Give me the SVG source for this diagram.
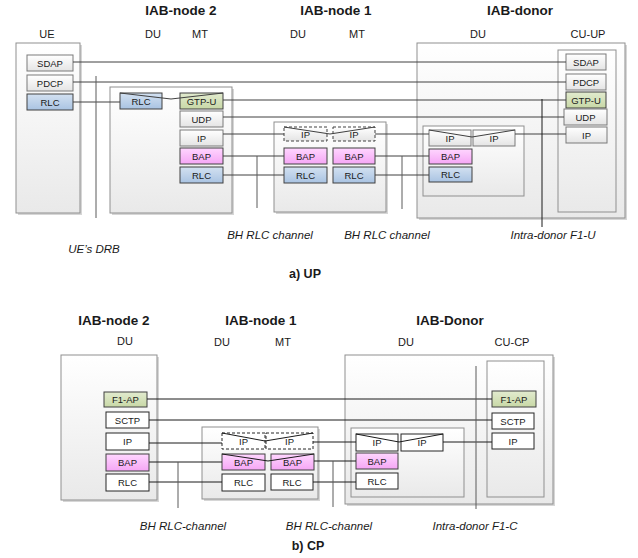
<svg xmlns="http://www.w3.org/2000/svg" width="638" height="558" viewBox="0 0 638 558">
<defs>
<linearGradient id="gOuter" x1="0" y1="0" x2="0" y2="1"><stop offset="0" stop-color="#ffffff"/><stop offset="1" stop-color="#e9e9e9"/></linearGradient>
<linearGradient id="gWhite" x1="0" y1="0" x2="0" y2="1"><stop offset="0" stop-color="#ffffff"/><stop offset="1" stop-color="#e4e4e4"/></linearGradient>
<linearGradient id="gBlue" x1="0" y1="0" x2="0" y2="1"><stop offset="0" stop-color="#d3e1f1"/><stop offset="1" stop-color="#a9c3e2"/></linearGradient>
<linearGradient id="gPink" x1="0" y1="0" x2="0" y2="1"><stop offset="0" stop-color="#ffd6ff"/><stop offset="1" stop-color="#f5a6f5"/></linearGradient>
<linearGradient id="gGreen" x1="0" y1="0" x2="0" y2="1"><stop offset="0" stop-color="#e2ebcf"/><stop offset="1" stop-color="#c8d8a6"/></linearGradient>
</defs>
<style>
.outer{fill:url(#gOuter);stroke:#8f8f8f;stroke-width:1}
.sh{fill:#d6d6d6;stroke:none}
.lay{fill:url(#gWhite);stroke:#7a7a7a;stroke-width:1}
.blue{fill:url(#gBlue);stroke:#404040;stroke-width:1}
.pink{fill:url(#gPink);stroke:#404040;stroke-width:1}
.green{fill:url(#gGreen);stroke:#404040;stroke-width:1}
.wcp{fill:#ffffff;stroke:#262626;stroke-width:1}
.dash{fill:#ffffff;stroke:#262626;stroke-width:1;stroke-dasharray:3 2}
.dashg{fill:url(#gWhite);stroke:#404040;stroke-width:1;stroke-dasharray:3 2}
text{font-family:"Liberation Sans",Arial,sans-serif;fill:#1a1a1a;text-anchor:middle}
.t{font-size:9.5px}
.h{font-size:13.5px;font-weight:bold}
.s{font-size:11px}
.i{font-size:11.5px;font-style:italic}
.cap{font-size:12.5px;font-weight:bold}
.ln{stroke:#404040;fill:none;stroke-width:1}
.lk{stroke:#1a1a1a;fill:none;stroke-width:1}
.vg{stroke:#5a5a5a;fill:none;stroke-width:1}
</style>

<!-- ============ a) UP ============ -->
<g id="up-labels">
<text class="h" x="181" y="15">IAB-node 2</text>
<text class="h" x="336" y="15">IAB-node 1</text>
<text class="h" x="520" y="15">IAB-donor</text>
<text class="s" x="47" y="38">UE</text>
<text class="s" x="153" y="38">DU</text>
<text class="s" x="200" y="38">MT</text>
<text class="s" x="298" y="38">DU</text>
<text class="s" x="357" y="38">MT</text>
<text class="s" x="478" y="38">DU</text>
<text class="s" x="588" y="38">CU-UP</text>
</g>

<g id="up-ue">
<rect class="sh" x="18" y="45" width="64" height="170"/>
<rect class="outer" x="16" y="43" width="64" height="170"/>
<rect class="lay" x="27" y="55" width="46" height="16"/><text class="t" x="50" y="66.5">SDAP</text>
<rect class="lay" x="27" y="75" width="46" height="16"/><text class="t" x="50" y="86.5">PDCP</text>
<rect class="blue" x="27" y="94" width="46" height="16"/><text class="t" x="50" y="105.5">RLC</text>
</g>

<g id="up-iab-node2">
<rect class="sh" x="112" y="89" width="122" height="126"/>
<rect class="outer" x="110" y="87" width="122" height="126"/>
<rect class="blue" x="120" y="93" width="42" height="16"/><text class="t" x="141" y="104.5">RLC</text>
<rect class="green" x="180" y="93" width="43" height="16"/><text class="t" x="201.5" y="104.5">GTP-U</text>
<rect class="lay" x="180" y="111" width="43" height="16"/><text class="t" x="201.5" y="122.5">UDP</text>
<rect class="lay" x="180" y="130" width="43" height="16"/><text class="t" x="201.5" y="141.5">IP</text>
<rect class="pink" x="180" y="148" width="43" height="16"/><text class="t" x="201.5" y="159.5">BAP</text>
<rect class="blue" x="180" y="167" width="43" height="16"/><text class="t" x="201.5" y="178.5">RLC</text>
</g>

<g id="up-iab-node1">
<rect class="sh" x="276" y="124" width="112" height="90"/>
<rect class="outer" x="274" y="122" width="112" height="90"/>
<rect class="dashg" x="284" y="127" width="43" height="14"/><text class="t" x="305.5" y="137.5">IP</text>
<rect class="dashg" x="333" y="127" width="42" height="14"/><text class="t" x="354" y="137.5">IP</text>
<rect class="pink" x="284" y="148" width="43" height="16"/><text class="t" x="305.5" y="159.5">BAP</text>
<rect class="pink" x="333" y="148" width="42" height="16"/><text class="t" x="354" y="159.5">BAP</text>
<rect class="blue" x="284" y="167" width="43" height="16"/><text class="t" x="305.5" y="178.5">RLC</text>
<rect class="blue" x="333" y="167" width="42" height="16"/><text class="t" x="354" y="178.5">RLC</text>
</g>

<g id="up-iab-donor">
<rect class="sh" x="419" y="45" width="208" height="175"/>
<rect class="outer" x="417" y="43" width="208" height="175"/>
<rect class="outer" x="558" y="50" width="58" height="162"/>
<rect class="lay" x="566" y="54" width="40" height="16"/><text class="t" x="586" y="65.5">SDAP</text>
<rect class="lay" x="566" y="74" width="40" height="16"/><text class="t" x="586" y="85.5">PDCP</text>
<rect class="green" x="566" y="92" width="40" height="16"/><text class="t" x="586" y="103.5">GTP-U</text>
<rect class="lay" x="564" y="109" width="43" height="16"/><text class="t" x="585.5" y="120.5">UDP</text>
<rect class="lay" x="566" y="127" width="41" height="16"/><text class="t" x="586.5" y="138.5">IP</text>
<rect class="outer" x="423" y="126" width="101" height="70"/>
<rect class="lay" x="429" y="130" width="42" height="16"/><text class="t" x="450" y="141.5">IP</text>
<rect class="lay" x="473" y="130" width="42" height="16"/><text class="t" x="494" y="141.5">IP</text>
<rect class="pink" x="429" y="149" width="43" height="15"/><text class="t" x="450.5" y="160">BAP</text>
<rect class="blue" x="429" y="167" width="43" height="15"/><text class="t" x="450.5" y="178">RLC</text>
</g>

<g id="up-connectors">
<path class="ln" d="M73,62H566"/>
<path class="ln" d="M73,82H566"/>
<path class="ln" d="M73,102H120"/>
<path class="ln" d="M120,93L171,99L223,93"/>
<path class="ln" d="M223,100H566"/>
<path class="ln" d="M223,117H564"/>
<path class="ln" d="M223,134H284"/>
<path class="ln" d="M284,127L330,134L375,127"/>
<path class="ln" d="M375,134H429"/>
<path class="ln" d="M429,130L472,137L515,130"/>
<path class="ln" d="M515,134H566"/>
<path class="ln" d="M223,156H284"/>
<path class="ln" d="M375,156H429"/>
<path class="ln" d="M223,175H284"/>
<path class="ln" d="M375,175H429"/>
<path class="vg" d="M257,156V208"/>
<path class="vg" d="M402,156V209"/>
<path class="vg" d="M96,76V218"/>
<path class="lk" d="M542,99V227"/>
</g>

<g id="up-notes">
<text class="i" x="94" y="253">UE’s DRB</text>
<text class="i" x="270" y="239">BH RLC channel</text>
<text class="i" x="387" y="239">BH RLC channel</text>
<text class="i" x="553" y="239">Intra-donor F1-U</text>
<text class="cap" x="305" y="278">a) UP</text>
</g>

<!-- ============ b) CP ============ -->
<g id="cp-labels">
<text class="h" x="114" y="325">IAB-node 2</text>
<text class="h" x="261" y="325">IAB-node 1</text>
<text class="h" x="450" y="325">IAB-Donor</text>
<text class="s" x="125" y="345">DU</text>
<text class="s" x="222" y="346">DU</text>
<text class="s" x="283" y="346">MT</text>
<text class="s" x="406" y="346">DU</text>
<text class="s" x="512" y="346">CU-CP</text>
</g>

<g id="cp-iab-node2">
<rect class="sh" x="63" y="357" width="96" height="145"/>
<rect class="outer" x="61" y="355" width="96" height="145"/>
<rect class="green" x="104" y="392" width="43" height="15"/><text class="t" x="125.5" y="403">F1-AP</text>
<rect class="wcp" x="106" y="412" width="43" height="16"/><text class="t" x="127.5" y="423.5">SCTP</text>
<rect class="wcp" x="106" y="433" width="43" height="17"/><text class="t" x="127.5" y="445">IP</text>
<rect class="pink" x="106" y="454" width="43" height="17"/><text class="t" x="127.5" y="466">BAP</text>
<rect class="wcp" x="106" y="474" width="43" height="17"/><text class="t" x="127.5" y="486">RLC</text>
</g>

<g id="cp-iab-node1">
<rect class="sh" x="204" y="429" width="116" height="72"/>
<rect class="outer" x="202" y="427" width="116" height="72"/>
<rect class="dash" x="222" y="433" width="43" height="16"/><text class="t" x="243.5" y="444.5">IP</text>
<rect class="dash" x="266" y="433" width="47" height="16"/><text class="t" x="289.5" y="444.5">IP</text>
<rect class="pink" x="222" y="454" width="43" height="16"/><text class="t" x="243.5" y="465.5">BAP</text>
<rect class="pink" x="271" y="454" width="43" height="16"/><text class="t" x="292.5" y="465.5">BAP</text>
<rect class="wcp" x="222" y="474" width="43" height="17"/><text class="t" x="243.5" y="486">RLC</text>
<rect class="wcp" x="271" y="474" width="42" height="16"/><text class="t" x="292" y="485.5">RLC</text>
</g>

<g id="cp-iab-donor">
<rect class="sh" x="347" y="357" width="208" height="149"/>
<rect class="outer" x="345" y="355" width="208" height="149"/>
<rect class="outer" x="487" y="361" width="57" height="136"/>
<rect class="green" x="492" y="391" width="44" height="16"/><text class="t" x="514" y="402.5">F1-AP</text>
<rect class="wcp" x="492" y="413" width="42" height="16"/><text class="t" x="513" y="424.5">SCTP</text>
<rect class="wcp" x="492" y="433" width="42" height="16"/><text class="t" x="513" y="444.5">IP</text>
<rect class="outer" x="351" y="428" width="113" height="69"/>
<rect class="wcp" x="356" y="434" width="42" height="17"/><text class="t" x="377" y="446">IP</text>
<rect class="wcp" x="401" y="434" width="42" height="17"/><text class="t" x="422" y="446">IP</text>
<rect class="pink" x="356" y="453" width="42" height="16"/><text class="t" x="377" y="464.5">BAP</text>
<rect class="wcp" x="356" y="473" width="42" height="16"/><text class="t" x="377" y="484.5">RLC</text>
</g>

<g id="cp-connectors">
<path class="lk" d="M147,399H492"/>
<path class="lk" d="M149,420H492"/>
<path class="lk" d="M149,443H222"/>
<path class="lk" d="M149,462H222"/>
<path class="lk" d="M149,482H222"/>
<path class="lk" d="M222,433L265,441L313,433"/>
<path class="lk" d="M222,454L268,461L314,454"/>
<path class="lk" d="M313,442H356"/>
<path class="lk" d="M314,461H356"/>
<path class="lk" d="M313,482H356"/>
<path class="lk" d="M356,434L399,442L443,434"/>
<path class="lk" d="M443,442H492"/>
<path class="vg" d="M178,462V508"/>
<path class="vg" d="M333,461V507"/>
<path class="vg" d="M476,366V509"/>
</g>

<g id="cp-notes">
<text class="i" x="183" y="530">BH RLC-channel</text>
<text class="i" x="329" y="530">BH RLC-channel</text>
<text class="i" x="475" y="530">Intra-donor F1-C</text>
<text class="cap" x="308" y="550">b) CP</text>
</g>
</svg>
